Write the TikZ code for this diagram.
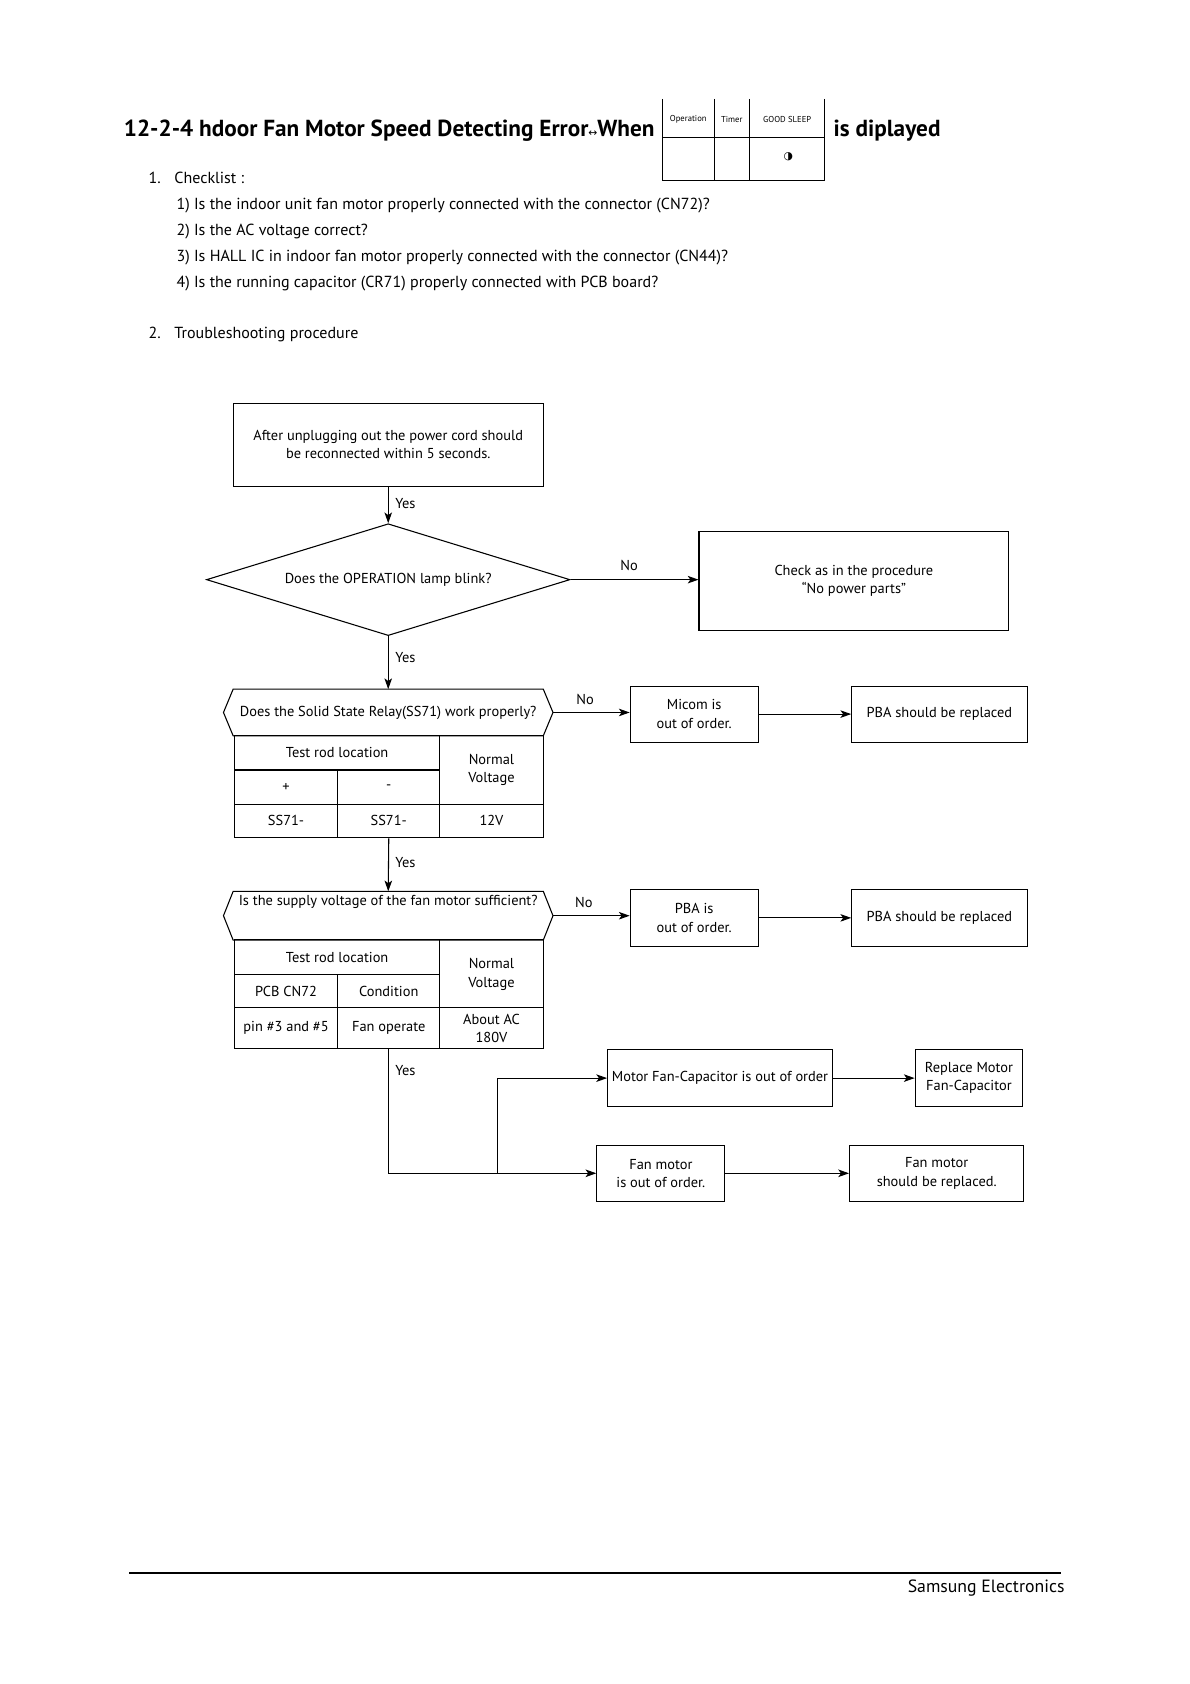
\documentclass[tikz,border=0pt]{standalone}
\usepackage{fontspec}
\setmainfont{PT Sans}
\newfontfamily\symfont{DejaVu Sans}
\usetikzlibrary{arrows.meta,shapes.geometric}
\begin{document}
\begin{tikzpicture}[x=1pt,y=-1pt,
  txt/.style={font=\fontsize{13.4}{17}\selectfont, inner sep=0pt, align=center},
  box/.style={draw, line width=1pt, inner sep=0pt, align=center, font=\fontsize{13.4}{17}\selectfont},
  arr/.style={draw, line width=1pt, -{Stealth[length=10pt,width=7pt,inset=2.5pt]}},
  ln/.style={draw, line width=1pt},
  chk/.style={font=\fontsize{14.9}{16}\selectfont, inner sep=0pt, anchor=base west},
  led/.style={font=\fontsize{8}{8}\selectfont, inner sep=0pt},
  ttl/.style={anchor=base west, inner sep=0pt, font=\fontsize{21.6}{24}\selectfont\bfseries},
]
\useasboundingbox (0,0) rectangle (1106.5,1565.9);
\fill[white] (0,0) rectangle (1106.5,1565.9);

% title
\node[ttl] (title) at (115,127) {12-2-4 hdoor Fan Motor Speed Detecting Error{\symfont\mdseries\fontsize{10}{10}\selectfont ↔}When};
\node[ttl] (title2) at (775,127) {is diplayed};

% LED table
\draw[line width=0.8pt] (616,92) -- (616,168) (664,92) -- (664,168) (697,92) -- (697,168) (767,92) -- (767,168)
  (616,128) -- (767,128) (616,168) -- (767,168);
\node[led] (op) at (640,111) {Operation};
\node[led] (tm) at (680.5,111) {Timer};
\node[led] (gs) at (732,111) {GOOD SLEEP};
\node[inner sep=0pt, font=\symfont\fontsize{10}{10}\selectfont] (half) at (733,146) {◑};

% checklist
\node[chk] (n1) at (138,171) {1.};
\node[chk] (c0) at (162,171) {Checklist :};
\node[chk] (c1) at (164,195) {1) Is the indoor unit fan motor properly connected with the connector (CN72)?};
\node[chk] (c2) at (164,219) {2) Is the AC voltage correct?};
\node[chk] (c3) at (164,243) {3) Is HALL IC in indoor fan motor properly connected with the connector (CN44)?};
\node[chk] (c4) at (164,267) {4) Is the running capacitor (CR71) properly connected with PCB board?};
\node[chk] (n2) at (138,315) {2.};
\node[chk] (c5) at (162,315) {Troubleshooting procedure};

% flowchart
\node[box, minimum width=288pt, minimum height=77pt] (b1) at (361,413.5)
  {After unplugging out the power cord should\\be reconnected within 5 seconds.};
\node[draw, diamond, aspect=3.25, line width=1pt, minimum width=338pt, minimum height=104pt, inner sep=0pt,
  font=\fontsize{13.4}{17}\selectfont] (d) at (361,539) {Does the OPERATION lamp blink?};
\node[box, minimum width=288pt, minimum height=92pt] (b2) at (794,540)
  {Check as in the procedure\\“No power parts”};

\draw[arr] (b1.south) -- (d.north);
\node[txt] (y1) at (377,468) {Yes};
\draw[arr] (d.east) -- (d.east -| b2.west);
\node[txt] (no1) at (585,526) {No};

% hex 1
\node[txt, minimum width=306pt, minimum height=43pt] (q1) at (361,662.5) {Does the Solid State Relay(SS71) work properly?};
\draw[ln] (q1.west) -- ([xshift=9pt]q1.north west) -- ([xshift=-9pt]q1.north east) -- (q1.east)
  -- ([xshift=-9pt]q1.south east) -- ([xshift=9pt]q1.south west) -- cycle;
\draw[arr] (d.south) -- (q1.north);
\node[txt] (y2) at (377,611) {Yes};

% table 1
\node[draw, line width=1pt, minimum width=287pt, minimum height=95pt, inner sep=0pt] (t1) at (361.5,731.5) {};
\draw[ln] (218,716) -- (409,716) (218,748) -- (505,748) (314,716) -- (314,779) (409,684) -- (409,779);
\node[txt] (t1a) at (313.5,700) {Test rod location};
\node[txt] (t1b) at (457,716) {Normal\\Voltage};
\node[txt] (t1c) at (266,732) {+};
\node[txt] (t1d) at (361.5,732) {-};
\node[txt] (t1e) at (266,763) {SS71-};
\node[txt] (t1f) at (361.5,763) {SS71-};
\node[txt] (t1g) at (457,763) {12V};

\node[box, minimum width=119pt, minimum height=52pt] (m1) at (645.5,664) {Micom is\\out of order.};
\node[box, minimum width=163pt, minimum height=52pt] (p1) at (873.5,664) {PBA should be replaced};
\draw[arr] (q1.east) -- (q1.east -| m1.west);
\node[txt] (no2) at (544,650) {No};
\draw[arr] (m1.east) -- (p1.west);

% hex 2
\node[inner sep=0pt, minimum width=306pt, minimum height=45pt] (q2) at (361,851.5) {};
\draw[ln] (q2.west) -- ([xshift=9pt]q2.north west) -- ([xshift=-9pt]q2.north east) -- (q2.east)
  -- ([xshift=-9pt]q2.south east) -- ([xshift=9pt]q2.south west) -- cycle;
\node[txt] (q2t) at (361,839) {Is the supply voltage of the fan motor sufficient?};
\draw[arr] (t1.south) -- (q2.north);
\node[txt] (y3) at (377,802) {Yes};

% table 2
\node[draw, line width=1pt, minimum width=287pt, minimum height=101pt, inner sep=0pt] (t2) at (361.5,924.5) {};
\draw[ln] (218,906) -- (409,906) (218,937) -- (505,937) (314,906) -- (314,975) (409,874) -- (409,975);
\node[txt] (t2a) at (313.5,890) {Test rod location};
\node[txt] (t2b) at (457,906) {Normal\\Voltage};
\node[txt] (t2c) at (266,921.5) {PCB CN72};
\node[txt] (t2d) at (361.5,921.5) {Condition};
\node[txt] (t2e) at (266,956) {pin \#3 and \#5};
\node[txt] (t2f) at (361.5,956) {Fan operate};
\node[txt] (t2g) at (457,956) {About AC\\180V};

\node[box, minimum width=119pt, minimum height=53pt] (m2) at (645.5,853.5) {PBA is\\out of order.};
\node[box, minimum width=163pt, minimum height=53pt] (p2) at (873.5,853.5) {PBA should be replaced};
\draw[arr] (q2.east) -- (q2.east -| m2.west);
\node[txt] (no3) at (543,839) {No};
\draw[arr] (m2.east) -- (p2.west);

% bottom branch
\node[box, minimum width=209pt, minimum height=53pt] (mc) at (669.5,1002.5) {Motor Fan-Capacitor is out of order};
\node[box, minimum width=100pt, minimum height=53pt] (rm) at (901,1002.5) {Replace Motor\\Fan-Capacitor};
\node[box, minimum width=119pt, minimum height=52pt] (fm) at (614.5,1091) {Fan motor\\is out of order.};
\node[box, minimum width=162pt, minimum height=52pt] (fr) at (871,1091) {Fan motor\\should be replaced.};
\coordinate (j2) at (463,1091);
\draw[arr] (t2.south) |- (fm.west);
\draw[arr] (j2) |- (mc.west);
\node[txt] (y4) at (377,995) {Yes};
\draw[arr] (mc.east) -- (rm.west);
\draw[arr] (fm.east) -- (fr.west);

% footer
\draw[line width=2pt] (120,1463) -- (987,1463);
\node[anchor=base east, inner sep=0pt, font=\fontsize{16.5}{18}\selectfont] (foot) at (990,1481) {Samsung Electronics};
\end{tikzpicture}
\end{document}
